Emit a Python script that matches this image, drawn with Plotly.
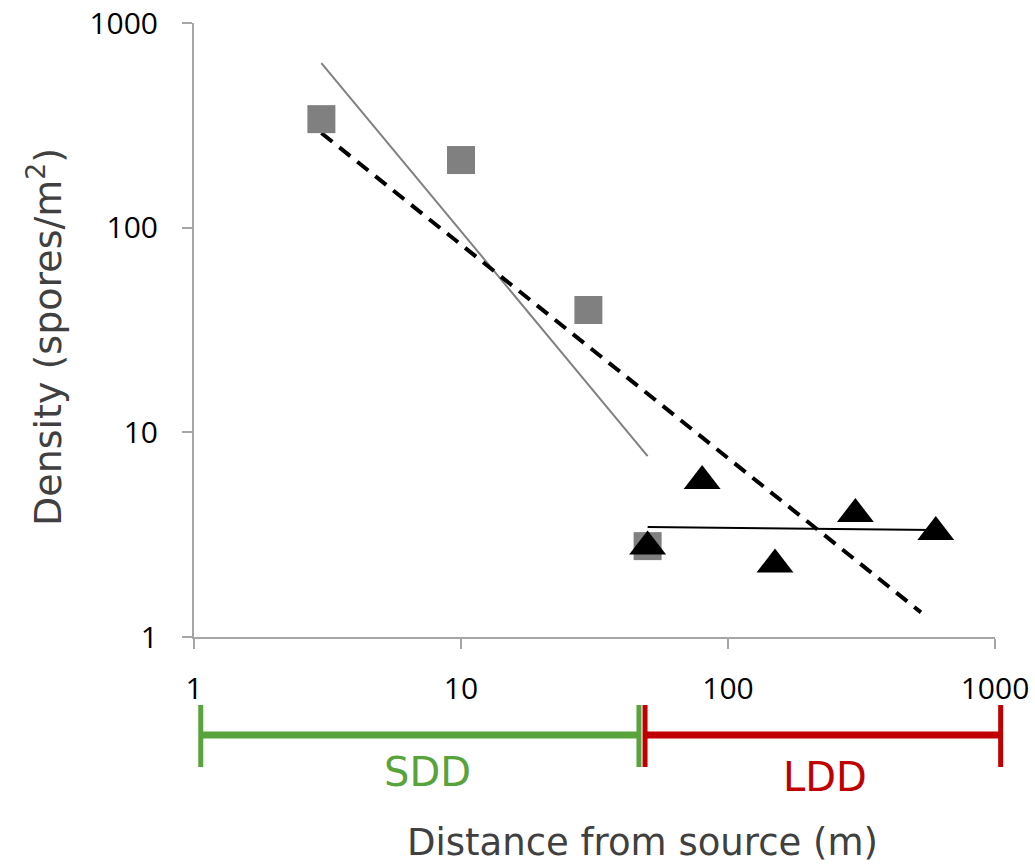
import math
import plotly.graph_objects as go

# Observed spore densities
square_x = [3, 10, 30, 50]
square_y = [339, 214, 39.6, 2.78]
triangle_x = [50, 80, 150, 300, 600]
triangle_y = [2.77, 5.78, 2.26, 3.99, 3.26]

# Fitted trend lines (end points)
sdd_fit_x = [3, 50]
sdd_fit_y = [637, 7.66]
all_fit_x = [3, 528]
all_fit_y = [290, 1.32]
ldd_fit_x = [50, 590]
ldd_fit_y = [3.45, 3.33]

# Axis ticks
tick_vals = [1, 10, 100, 1000]
tick_text = ["1", "10", "100", "1000"]

# Dispersal ranges along the distance axis (m)
sdd_range = [1.06, 46.4]
ldd_range = [48.9, 1050]

X_DECADES = (0, 3)  # log10 range of the distance axis

AXIS_GRAY = "#A6A6A6"
TITLE_GRAY = "#404040"
GREEN = "#59A33C"
RED = "#C00000"


def dist_to_paper(v):
    """Position of a distance on the log axis, as a fraction of the plot width."""
    lo, hi = X_DECADES
    return (math.log10(v) - lo) / (hi - lo)


fig = go.Figure()

fig.add_trace(go.Scatter(x=sdd_fit_x, y=sdd_fit_y, mode="lines",
                         line=dict(color="#808080", width=2), showlegend=False))
fig.add_trace(go.Scatter(x=ldd_fit_x, y=ldd_fit_y, mode="lines",
                         line=dict(color="black", width=2), showlegend=False))
fig.add_trace(go.Scatter(x=all_fit_x, y=all_fit_y, mode="lines",
                         line=dict(color="black", width=4, dash="14px,9px"),
                         showlegend=False))
fig.add_trace(go.Scatter(x=square_x, y=square_y, mode="markers",
                         marker=dict(symbol="square", size=28, color="#808080",
                                     line=dict(width=0)),
                         showlegend=False))
fig.add_trace(go.Scatter(x=triangle_x, y=triangle_y, mode="markers",
                         marker=dict(symbol="triangle-up", size=32, color="black",
                                     line=dict(width=0)),
                         showlegend=False))

axis_common = dict(
    type="log",
    automargin=False,
    showgrid=False,
    zeroline=False,
    showline=True,
    linecolor=AXIS_GRAY,
    linewidth=2,
    ticks="outside",
    ticklen=10,
    tickwidth=2,
    tickcolor=AXIS_GRAY,
    tickvals=tick_vals,
    ticktext=tick_text,
    tickfont=dict(family="Open Sans", size=30, color="black"),
)

fig.update_xaxes(**axis_common, range=list(X_DECADES), ticklabelstandoff=14)
fig.update_yaxes(**axis_common, range=[0, 3], ticklabelstandoff=18)

# Range bars below the distance axis
bar_y = -0.1596
cap_lo, cap_hi = -0.2117, -0.1107
shapes = []
for rng, color in [(sdd_range, GREEN), (ldd_range, RED)]:
    x0, x1 = dist_to_paper(rng[0]), dist_to_paper(rng[1])
    shapes.append(dict(type="line", xref="paper", yref="paper",
                       x0=x0, x1=x1, y0=bar_y, y1=bar_y,
                       line=dict(color=color, width=7)))
    for xv in (x0, x1):
        shapes.append(dict(type="line", xref="paper", yref="paper",
                           x0=xv, x1=xv, y0=cap_lo, y1=cap_hi,
                           line=dict(color=color, width=5)))
fig.update_layout(shapes=shapes)

annotations = [
    dict(text="SDD", x=0.292, y=-0.22, xref="paper", yref="paper",
         showarrow=False, xanchor="center", yanchor="middle",
         font=dict(family="DejaVu Sans", size=40, color=GREEN)),
    dict(text="LDD", x=0.788, y=-0.228, xref="paper", yref="paper",
         showarrow=False, xanchor="center", yanchor="middle",
         font=dict(family="DejaVu Sans", size=40, color=RED)),
    dict(text="Distance from source (m)", x=0.560, y=-0.3355,
         xref="paper", yref="paper", showarrow=False,
         xanchor="center", yanchor="middle",
         font=dict(family="DejaVu Sans", size=37, color=TITLE_GRAY)),
    dict(text="Density (spores/m<sup>2</sup>)", x=-0.186, y=0.4886,
         xref="paper", yref="paper", showarrow=False, textangle=-90,
         xanchor="center", yanchor="middle",
         font=dict(family="DejaVu Sans", size=38, color=TITLE_GRAY)),
]

fig.update_layout(
    annotations=annotations,
    width=1035,
    height=866,
    margin=dict(l=194, r=40, t=23, b=229),
    plot_bgcolor="white",
    paper_bgcolor="white",
    showlegend=False,
)

fig.write_html("out.html")
